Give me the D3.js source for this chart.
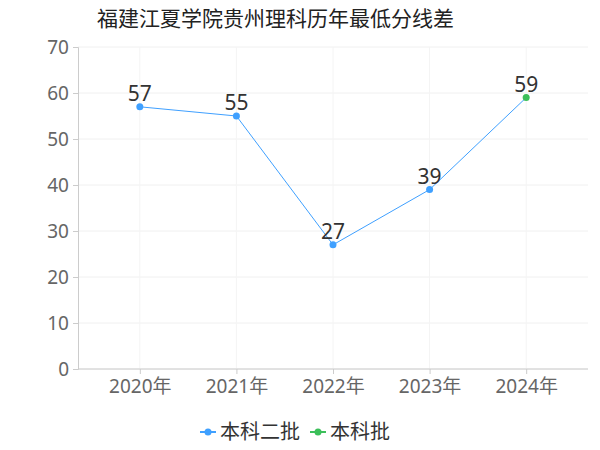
<!DOCTYPE html>
<html><head><meta charset="utf-8">
<script src="https://cdn.jsdelivr.net/npm/d3@7"></script>
<style>body{margin:0;background:#fff}text{font-family:"Noto Sans","Noto Sans CJK SC",sans-serif}</style>
</head><body><svg id="chart" width="600" height="450"></svg>
<script>
const years = ['2020年', '2021年', '2022年', '2023年', '2024年'];
const values = [57, 55, 27, 39, 59];
const batches = ['本科二批', '本科二批', '本科二批', '本科二批', '本科批'];
const yTicks = [0, 10, 20, 30, 40, 50, 60, 70];
const legendItems = ['本科二批', '本科批'];

const color = d3.scaleOrdinal().domain(legendItems).range(['#3fa0ff', '#3cbf5a']);
const svg = d3.select('#chart');
const x = d3.scalePoint().domain(years).range([78, 588]).padding(0.64);
const y = d3.scaleLinear().domain([0, 70]).range([369, 47]);

svg.append('text').attr('x', 97).attr('y', 26).text('福建江夏学院贵州理科历年最低分线差')
  .style('font-size', '21px').attr('fill', '#222');

// grid
svg.append('g').selectAll('line').data(yTicks).join('line')
  .attr('x1', 78).attr('x2', 588).attr('y1', d => y(d)).attr('y2', d => y(d))
  .attr('stroke', '#f0f0f0');
svg.append('g').selectAll('line').data(years).join('line')
  .attr('x1', d => x(d)).attr('x2', d => x(d)).attr('y1', 47).attr('y2', 369)
  .attr('stroke', '#f4f4f4');

const ya = svg.append('g').attr('transform', 'translate(78,0)')
  .call(d3.axisLeft(y).tickValues(yTicks).tickSize(5).tickPadding(4));
ya.select('.domain').attr('stroke', '#ccc');
ya.selectAll('line').attr('stroke', '#ccc');
ya.selectAll('text').style('font-size', '19px').attr('fill', '#666');

const xa = svg.append('g').attr('transform', 'translate(0,369)')
  .call(d3.axisBottom(x).tickSize(5).tickPadding(6));
xa.select('.domain').attr('stroke', '#ccc').attr('d', 'M78,0H588');
xa.selectAll('line').attr('stroke', '#ccc');
xa.selectAll('text').style('font-size', '19px').attr('fill', '#666');

const pts = years.map((yr, i) => ({ yr, v: values[i], b: batches[i] }));
svg.append('path').datum(pts)
  .attr('d', d3.line().x(d => x(d.yr)).y(d => y(d.v)))
  .attr('fill', 'none').attr('stroke', '#3fa0ff').attr('stroke-width', 1);
svg.append('g').selectAll('circle').data(pts).join('circle')
  .attr('cx', d => x(d.yr)).attr('cy', d => y(d.v)).attr('r', 3.5)
  .attr('fill', d => color(d.b));
svg.append('g').selectAll('text').data(pts).join('text')
  .attr('x', d => x(d.yr)).attr('y', d => y(d.v) - 6)
  .attr('text-anchor', 'middle').style('font-size', '21px').attr('fill', '#333')
  .text(d => d.v);

const lg = svg.append('g').attr('transform', 'translate(200,432)');
legendItems.forEach((name, i) => {
  const g = lg.append('g').attr('transform', `translate(${i * 110},0)`);
  g.append('line').attr('x1', 0).attr('x2', 16).attr('stroke', color(name)).attr('stroke-width', 2);
  g.append('circle').attr('cx', 8).attr('r', 3.5).attr('fill', color(name));
  g.append('text').attr('x', 20).attr('dy', '0.35em').style('font-size', '20px').attr('fill', '#333').text(name);
});
</script></body></html>
